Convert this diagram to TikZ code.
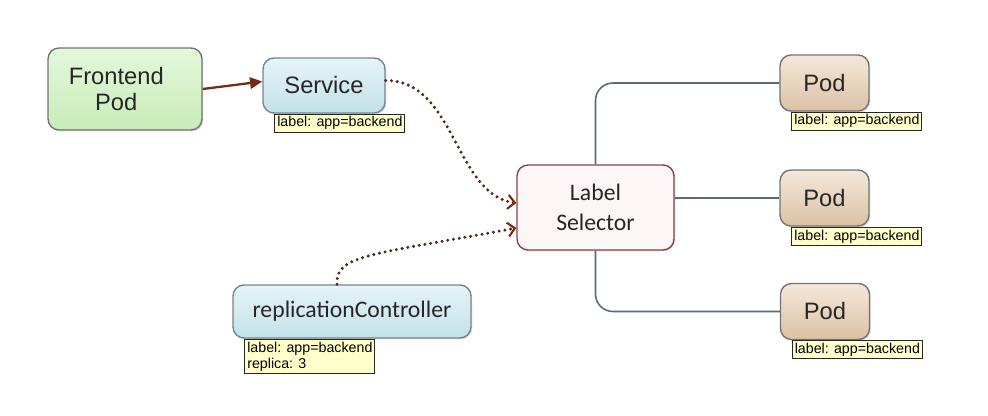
\documentclass[tikz,border=0pt]{standalone}
\usepackage{fontspec}
\setmainfont{Liberation Sans}
\newfontfamily\carlito{Carlito}
\usetikzlibrary{arrows.meta,shadows}
\definecolor{greentop}{HTML}{E4F8DA}
\definecolor{greenbot}{HTML}{C8ECBA}
\definecolor{bluetop}{HTML}{E6F4F7}
\definecolor{bluebot}{HTML}{C3E1E9}
\definecolor{podtop}{HTML}{F4E8DA}
\definecolor{podbot}{HTML}{DBC1A5}
\definecolor{selfill}{HTML}{FDF6F7}
\definecolor{tagfill}{HTML}{FFFFCC}
\definecolor{darkred}{HTML}{7A2A12}
\definecolor{dotbrown}{HTML}{4E2A18}
\definecolor{treegray}{HTML}{5A6A78}
\begin{document}
\begin{tikzpicture}[x=0.02cm,y=-0.02cm,
	box/.style={draw,line width=0.8pt,rounded corners=0.22cm,align=center,inner sep=0pt,text=black!85,
		font=\fontsize{13.5}{15}\selectfont,drop shadow={opacity=0.25,shadow xshift=0.8pt,shadow yshift=-0.8pt}},
	greenbox/.style={box,draw=black!55,top color=greentop,bottom color=greenbot},
	bluebox/.style={box,draw=black!50!cyan!40!gray,top color=bluetop,bottom color=bluebot},
	podbox/.style={box,draw=black!55,top color=podtop,bottom color=podbot,minimum width=1.78cm,minimum height=1.12cm},
	tag/.style={draw=black!85,fill=tagfill,line width=0.6pt,font=\fontsize{8.1}{9.2}\selectfont,
		inner sep=1.4pt,minimum height=0.32cm,anchor=north west,align=left},
	dots/.style={draw=dotbrown,line width=1.9pt,dash pattern=on 0pt off 3.3pt,line cap=round,
		-{Straight Barb[length=4pt,width=8pt,line width=1.2pt,color=darkred]}},
	tree/.style={draw=treegray,line width=0.9pt,rounded corners=0.35cm}]
	\useasboundingbox (0,0) rectangle (988,416);
	\node[greenbox,minimum width=3.08cm,minimum height=1.64cm] (front) at (125,89) {Frontend\hspace*{0.35cm}\\Pod\hspace*{0.35cm}};
	\node[bluebox,minimum width=2.44cm,minimum height=1.1cm] (service) at (324,85.5) {Service};
	\node[tag] (servicetag) at ([xshift=0.24cm]service.south west) {label: app=backend};
	\node[box,draw=black!40!red!50!gray,fill=selfill,minimum width=3.14cm,minimum height=1.7cm,
		font=\carlito\fontsize{13.5}{17}\selectfont] (selector) at (595.5,207.5) {Label\\Selector};
	\node[bluebox,minimum width=4.76cm,minimum height=1.06cm,font=\carlito\fontsize{13.5}{16}\selectfont] (rc) at (352,311.5) {replicationController};
	\node[tag] (rctag) at ([xshift=0.24cm]rc.south west) {label: app=backend\\replica: 3};
	\node[podbox] (pod1) at (824.5,83) {Pod};
	\node[podbox] (pod2) at (824.5,198) {Pod};
	\node[podbox] (pod3) at (825,311.5) {Pod};
	\node[tag] (podtag1) at ([xshift=0.24cm]pod1.south west) {label: app=backend};
	\node[tag] (podtag2) at ([xshift=0.24cm]pod2.south west) {label: app=backend};
	\node[tag] (podtag3) at ([xshift=0.24cm]pod3.south west) {label: app=backend};
	\draw[darkred,line width=1.3pt,-{Triangle[length=7pt,width=6.5pt]}] (front.east) -- ([yshift=0.08cm]service.west);
	\draw[dots] ([yshift=0.1cm]service.east) .. controls (455,80) and (455,195) .. ([yshift=0.09cm]selector.west);
	\draw[dots] ([xshift=-0.3cm]rc.north) .. controls (335,255) and (370,255) .. ([yshift=-0.41cm]selector.west);
	\draw[tree] (selector.north) |- (pod1.west);
	\draw[tree] (selector.east |- pod2.west) -- (pod2.west);
	\draw[tree] (selector.south) |- (pod3.west);
\end{tikzpicture}
\end{document}
